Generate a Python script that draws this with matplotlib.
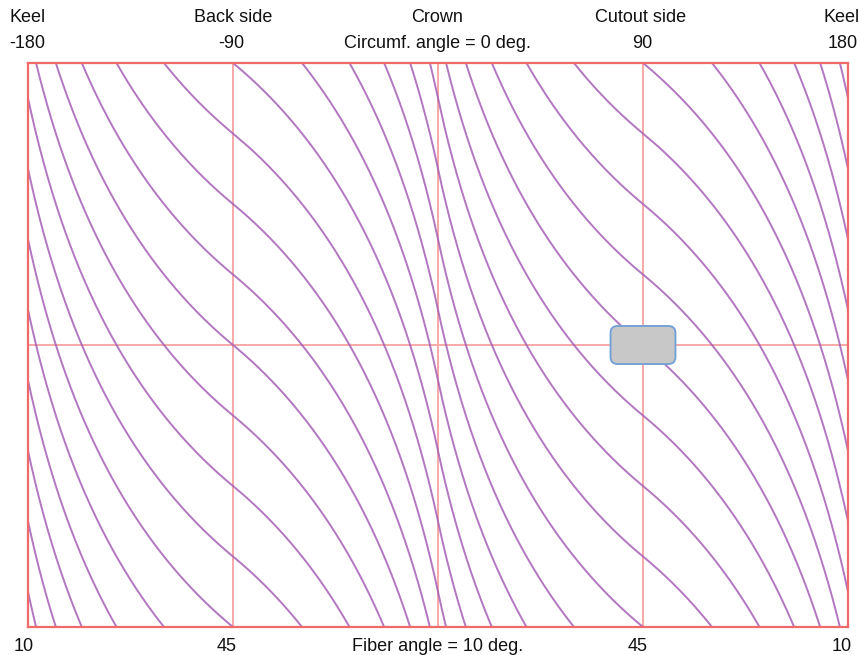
import numpy as np
import matplotlib
matplotlib.use("Agg")
import matplotlib.pyplot as plt
from matplotlib.patches import FancyBboxPatch

# ---- data ----
station_x = [-180, -90, 0, 90, 180]          # circumferential angle (deg)
station_fiber_angle = [10, 45, 10, 45, 10]   # fibre angle at each station (deg)
quarter_drop = 5.5                           # axial drop of one fibre over 90 deg, in fibre spacings
panel_height = 8.0                           # panel height in fibre spacings
keel_phase = 0.5                             # first fibre entry below the top at the keel

top_labels = ["Keel", "Back side", "Crown", "Cutout side", "Keel"]
angle_labels = ["-180", "-90", "Circumf. angle = 0 deg.", "90", "180"]
fiber_labels = ["10", "45", "Fiber angle = 10 deg.", "45", "10"]

cutout_center = (90.0, 4.0)
cutout_size = (28.5, 0.54)

# ---- fibre path: slope proportional to cot(fibre angle) ----
xs = np.linspace(-180, 180, 3601)
theta = np.interp(xs, station_x, station_fiber_angle)
cot = 1.0 / np.tan(np.radians(theta))
cum = np.concatenate([[0.0], np.cumsum(0.5 * (cot[1:] + cot[:-1]) * np.diff(xs))])
q_idx = np.argmin(np.abs(xs - (-90)))
ds = cum / cum[q_idx] * quarter_drop

# ---- figure ----
W, H = 862, 655
fig = plt.figure(figsize=(W / 100, H / 100), dpi=100)
L, R, T, B = 28, 848, 63, 627
ax = fig.add_axes([L / W, 1 - B / H, (R - L) / W, (B - T) / H])
ax.set_xlim(-180, 180)
ax.set_ylim(panel_height, 0)
ax.set_xticks([]); ax.set_yticks([])
for s in ax.spines.values():
    s.set_color("#f06a6a"); s.set_linewidth(1.6)

for xv in station_x[1:-1]:
    ax.axvline(xv, color="#f7a8a8", lw=1.4, zorder=1)
ax.axhline(panel_height / 2, color="#f7a8a8", lw=1.4, zorder=1)

kmin = -int(panel_height) - 3
kmax = int(np.ceil(ds[-1] + panel_height)) + 3
for k in range(kmin, kmax):
    y = ds + keel_phase - k
    if np.any((y >= 0) & (y <= panel_height)):
        ax.plot(xs, y, color="#a55fb5", lw=1.4, alpha=0.85, zorder=2)

cw, ch = cutout_size
r_px = 7.0
xpx = (R - L) / 360.0; ypx = (B - T) / panel_height
rect = FancyBboxPatch((cutout_center[0] - cw / 2, cutout_center[1] - ch / 2), cw, ch,
                      boxstyle=f"round,pad=0,rounding_size={r_px / xpx}",
                      mutation_aspect=(r_px / ypx) / (r_px / xpx),
                      facecolor="#c8c8c8", edgecolor="#6f9fd6", lw=1.3, zorder=5)
ax.add_patch(rect)

font = dict(family=["Liberation Sans", "DejaVu Sans"], fontsize=13, color="#111111")
top_px = [27.5, 233, 437.5, 641, 842]
ang_px = [27.5, 231, 437.5, 642, 843]
fib_px = [24, 227, 438, 638, 842]
for i in range(5):
    fig.text(top_px[i] / W, 1 - 22 / H, top_labels[i], ha="center", va="baseline", **font)
    fig.text(ang_px[i] / W, 1 - 48 / H, angle_labels[i], ha="center", va="baseline", **font)
    fig.text(fib_px[i] / W, 1 - 651 / H, fiber_labels[i], ha="center", va="baseline", **font)

fig.savefig("out.png", dpi=100)
